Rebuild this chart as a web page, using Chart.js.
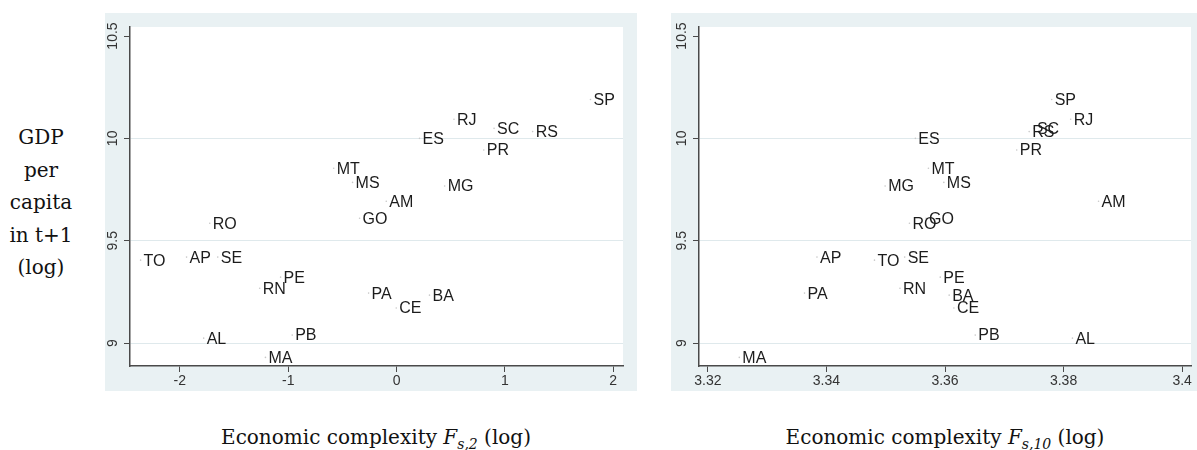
<!DOCTYPE html>
<html>
<head>
<meta charset="utf-8">
<script src="https://cdn.jsdelivr.net/npm/chart.js@4.4.0/dist/chart.umd.min.js"></script>
<style>
  body { margin: 0; background: #fff; width: 1197px; height: 450px; position: relative; overflow: hidden; }
  .panel { position: absolute; top: 13px; height: 378px; background: #e9f1f3; }
  #leftPanel { left: 105px; width: 532px; }
  #rightPanel { left: 671px; width: 526px; }
  .ytitle { position: absolute; left: 0; width: 82px; top: 121px; text-align: center;
            font: 20px "DejaVu Serif", "Liberation Serif", serif; line-height: 32.5px; color: #111; }
  .xtitle { position: absolute; top: 424px; text-align: center; width: 420px;
            font: 20px "DejaVu Serif", "Liberation Serif", serif; line-height: 26px; color: #111; }
  .xtitle i sub { font-size: 14px; line-height: 0; }
</style>
</head>
<body>
<div class="ytitle">GDP<br>per<br>capita<br>in t+1<br>(log)</div>
<div class="panel" id="leftPanel"><canvas id="leftChart" width="532" height="378"></canvas></div>
<div class="panel" id="rightPanel"><canvas id="rightChart" width="526" height="378"></canvas></div>
<div class="xtitle" style="left:166px">Economic complexity <i>F<sub>s,2</sub></i> (log)</div>
<div class="xtitle" style="left:735px">Economic complexity <i>F<sub>s,10</sub></i> (log)</div>
<script>
// states, Fs2 / Fs10 complexity (log) and GDP per capita in t+1 (log)
const states = ['SP','RJ','SC','RS','ES','PR','MT','MS','MG','AM','GO','RO','TO','AP','SE','PE','RN','PA','BA','CE','AL','PB','MA'];
const fs2 = [1.79, 0.53, 0.90, 1.256, 0.212, 0.805, -0.58, -0.406, 0.444, -0.095, -0.341, -1.724, -2.362, -1.938, -1.65, -1.07, -1.263, -0.258, 0.304, -0.003, -1.78, -0.963, -1.21];
const fs10 = [3.378, 3.3812, 3.375, 3.3742, 3.355, 3.3721, 3.3572, 3.3598, 3.3499, 3.3859, 3.3568, 3.354, 3.3481, 3.3384, 3.3532, 3.3592, 3.3524, 3.3363, 3.3607, 3.3615, 3.3815, 3.3651, 3.3253];
const gdpNext = [10.19, 10.093, 10.049, 10.033, 10.0, 9.943, 9.854, 9.785, 9.767, 9.693, 9.61, 9.585, 9.405, 9.42, 9.42, 9.322, 9.268, 9.244, 9.234, 9.171, 9.024, 9.039, 8.93];

const yTicks = [9, 9.5, 10, 10.5];
const xTicksLeft = [-2, -1, 0, 1, 2];
const xTicksRight = [3.32, 3.34, 3.36, 3.38, 3.4];

const tickFamily = '"Liberation Sans Narrow", "Arial Narrow", "Liberation Sans", Arial, sans-serif';

const plotBackground = {
    id: 'plotBackground',
    beforeDraw(chart) {
        const a = chart.chartArea;
        chart.ctx.save();
        chart.ctx.fillStyle = '#ffffff';
        chart.ctx.fillRect(a.left, a.top, a.right - a.left, a.bottom - a.top);
        chart.ctx.restore();
    }
};

const stateLabels = {
    id: 'stateLabels',
    afterDatasetsDraw(chart) {
        const ctx = chart.ctx;
        ctx.save();
        ctx.font = '16px "Liberation Sans", Arial, sans-serif';
        ctx.fillStyle = '#1c1c1c';
        ctx.textBaseline = 'middle';
        chart.getDatasetMeta(0).data.forEach((pt, i) => {
            ctx.fillText(states[i], pt.x + 3, pt.y + 1);
        });
        ctx.restore();
    }
};

// y tick labels are vertical in the original
const rotatedYTicks = {
    id: 'rotatedYTicks',
    afterDraw(chart) {
        const ctx = chart.ctx;
        const y = chart.scales.y;
        ctx.save();
        ctx.font = '14px ' + tickFamily;
        ctx.fillStyle = '#333';
        ctx.textAlign = 'center';
        ctx.textBaseline = 'middle';
        yTicks.forEach(v => {
            ctx.save();
            ctx.translate(chart.chartArea.left - 17, y.getPixelForValue(v));
            ctx.rotate(-Math.PI / 2);
            ctx.fillText(String(v), 0, 0);
            ctx.restore();
        });
        ctx.restore();
    }
};

function makeChart(id, xs, xMin, xMax, xTicks, yWidth, padRight) {
    const ctx = document.getElementById(id).getContext('2d');
    return new Chart(ctx, {
        type: 'scatter',
        data: {
            datasets: [{
                data: xs.map((x, i) => ({ x: x, y: gdpNext[i] })),
                pointRadius: 0.8,
                pointHoverRadius: 0.8,
                backgroundColor: '#c8c8c8',
                borderWidth: 0
            }]
        },
        options: {
            responsive: false,
            animation: false,
            events: [],
            layout: { padding: { top: 14, right: padRight, left: 0, bottom: 0 } },
            plugins: { legend: { display: false }, tooltip: { enabled: false } },
            scales: {
                x: {
                    type: 'linear',
                    min: xMin,
                    max: xMax,
                    afterBuildTicks: s => { s.ticks = xTicks.map(v => ({ value: v })); },
                    afterFit: s => { s.height = 25; },
                    border: { color: '#4a4a4a', width: 1.5 },
                    grid: { drawOnChartArea: false, tickLength: 6, tickColor: '#4a4a4a' },
                    ticks: {
                        font: { family: tickFamily, size: 14 },
                        color: '#333',
                        padding: 1,
                        maxRotation: 0,
                        callback: v => String(v)
                    }
                },
                y: {
                    type: 'linear',
                    min: 8.888,
                    max: 10.544,
                    afterBuildTicks: s => { s.ticks = yTicks.map(v => ({ value: v })); },
                    afterFit: s => { s.width = yWidth; },
                    border: { color: '#4a4a4a', width: 1.5 },
                    grid: {
                        color: ctx => (ctx.tick && ctx.tick.value === 10.5) ? 'rgba(0,0,0,0)' : '#dfe9ec',
                        lineWidth: 1,
                        tickLength: 6,
                        tickColor: '#4a4a4a'
                    },
                    ticks: { display: false }
                }
            }
        },
        plugins: [plotBackground, stateLabels, rotatedYTicks]
    });
}

makeChart('leftChart', fs2, -2.46, 2.09, xTicksLeft, 25, 14);
makeChart('rightChart', fs10, 3.3185, 3.4015, xTicksRight, 28, 6);
</script>
</body>
</html>
